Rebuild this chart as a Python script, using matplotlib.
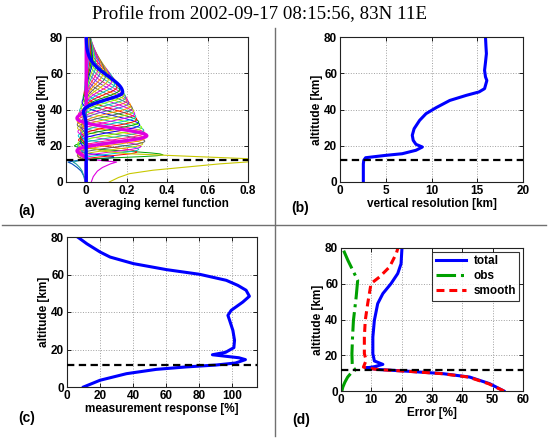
import numpy as np
import matplotlib
matplotlib.use("Agg")
import matplotlib.pyplot as plt
from matplotlib.lines import Line2D

plt.rcParams['font.family'] = ['Liberation Sans', 'DejaVu Sans']
plt.rcParams['font.weight'] = 'bold'

# ---------------- data ----------------
title_text = "Profile from 2002-09-17 08:15:56, 83N 11E"
tropopause_alt = 12.0

# (a) averaging kernels (peak altitude, peak value, widths below/above, side-lobe depths)
kern_alt = [13.5, 15, 16.5, 18, 19.5, 21, 22.5, 24, 25.5, 27, 28.5, 30, 31.5, 33, 34.5,
            36, 37.5, 39, 40.5, 42, 43.5, 45, 46.5, 48, 49.5, 51, 52.5, 54, 55.5, 57,
            58.5, 60, 61.5, 63, 64.5, 66, 67.5, 69, 70.5, 72, 73.5, 75]
kern_peak = [0.15, 0.38, 0.25, 0.26, 0.27, 0.28, 0.29, 0.29, 0.30, 0.29, 0.285, 0.275,
             0.265, 0.26, 0.25, 0.245, 0.24, 0.235, 0.228, 0.22, 0.21, 0.203, 0.195,
             0.187, 0.18, 0.165, 0.152, 0.14, 0.125, 0.11, 0.095, 0.082, 0.07, 0.058,
             0.047, 0.038, 0.031, 0.026, 0.021, 0.017, 0.014, 0.011]
kern_wlo = [1.0, 1.3, 1.8, 2.1, 2.4, 2.6, 2.8, 2.9, 3.0, 3.1, 3.2, 3.2, 3.3, 3.3, 3.4,
            3.4, 3.5, 3.5, 3.5, 3.6, 3.6, 3.7, 3.7, 3.8, 3.8, 4.0, 4.2, 4.5, 4.8, 5.1,
            5.4, 5.7, 6.0, 6.3, 6.6, 6.9, 7.2, 7.5, 7.8, 8.0, 8.0, 8.0]
kern_whi = [1.2, 1.8, 2.4, 2.7, 3.0, 3.2, 3.3, 3.4, 3.5, 3.7, 3.9, 4.1, 4.4, 4.7, 5.0,
            5.3, 5.7, 6.0, 6.4, 6.8, 7.2, 7.6, 8.0, 8.4, 8.8, 9.2, 9.6, 10.0, 10.4, 10.8,
            11.0, 11.2, 11.4, 11.6, 11.8, 12.0, 12.0, 12.0, 12.0, 12.0, 12.0, 12.0]
kern_nlo = [0.2, 0.15, 0.18, 0.18, 0.18, 0.18, 0.18, 0.18, 0.18, 0.18, 0.18, 0.18, 0.14,
            0.14, 0.14, 0.14, 0.14, 0.14, 0.14, 0.10, 0.10, 0.10, 0.10, 0.10, 0.10, 0.10,
            0.06, 0.06, 0.06, 0.06, 0.06, 0.06, 0.03, 0.03, 0.03, 0.03, 0.03, 0.03, 0.03,
            0.03, 0.03, 0.03]
kern_nhi = [0.18, 0.18, 0.18, 0.18, 0.18, 0.18, 0.18, 0.18, 0.18, 0.16, 0.14, 0.12, 0.10,
            0.08, 0.06, 0.05, 0.04, 0.03, 0.02, 0.02, 0.01, 0.01, 0.0, 0.0, 0.0, 0.0, 0.0,
            0.0, 0.0, 0.0, 0.0, 0.0, 0.0, 0.0, 0.0, 0.0, 0.0, 0.0, 0.0, 0.0, 0.0, 0.0]
thick_magenta_idx = 8
thick_blue_idx = 24

# kernels of the lowest retrieval levels (read directly)
low_yellow_alt = [0, 2.5, 4.6, 6.5, 8.3, 10, 11, 12.2, 12.9, 14, 15.6, 17, 19, 22, 30, 80]
low_yellow_val = [0.114, 0.16, 0.214, 0.33, 0.5, 0.66, 0.79, 0.9, 0.79, 0.55, 0.21, 0.08,
                  0.02, 0.0, 0.0, 0.0]
low_magenta_alt = [0, 3, 6, 8, 10, 11, 11.8, 12.5, 14, 20, 80]
low_magenta_val = [0.025, 0.035, 0.055, 0.08, 0.12, 0.15, 0.08, 0.02, 0.0, 0.0, 0.0]
low_blue_alt = [0, 3, 6, 8, 10, 11, 11.8, 12.5, 14, 80]
low_blue_val = [0.0, -0.01, -0.025, -0.045, -0.07, -0.09, -0.05, 0.0, 0.0, 0.0]
low_cyan_alt = [0, 3, 6, 8, 10, 11, 11.8, 12.5, 14, 80]
low_cyan_val = [-0.005, -0.012, -0.02, -0.032, -0.05, -0.065, -0.035, 0.0, 0.0, 0.0]

# (b) vertical resolution
res_alt = [0, 5, 10, 12, 13.4, 14.7, 15.6, 17.5, 19.3, 20.8, 23, 25.8, 29.4, 34, 37.7,
           41, 45, 47.8, 49.7, 51.5, 56, 58, 61.6, 66, 70.8, 75, 80]
res_val = [2.55, 2.55, 2.55, 2.6, 2.8, 5.0, 6.8, 8.3, 9.0, 8.3, 8.0, 7.9, 8.1, 8.7, 9.4,
           10.5, 12.0, 13.8, 15.2, 15.8, 16.05, 15.9, 15.8, 15.9, 16.0, 15.95, 15.9]

# (c) measurement response
mr_alt = [0, 3.6, 7.1, 9.4, 10.7, 11.7, 12.8, 14.6, 15.6, 17.2, 18.5, 21, 24.9, 30.2,
          35.6, 38.2, 40.9, 45.3, 48.4, 51.6, 54.2, 56.9, 60.1, 62.6, 65.8, 69.3, 72,
          76.4, 80]
mr_val = [10, 20, 36, 54, 72, 90, 102, 108, 104, 88, 96, 101, 101.4, 100.4, 98.4, 97.4,
          99.4, 106.4, 110.4, 108.4, 103.4, 96.4, 80.3, 60.2, 40.2, 26.1, 20, 12, 6.4]

# (d) errors
tot_alt = [0, 4.1, 7.8, 9.7, 11, 12, 12.9, 13.6, 14.9, 16.8, 20.9, 30.2, 39.5, 48.9,
           54.5, 60.1, 65.7, 71.2, 80]
tot_val = [53.7, 49, 42.4, 33.6, 22.6, 12.7, 8.3, 11.0, 13.8, 11, 10.5, 10.5, 11, 12.1,
           13.8, 16.5, 18.7, 19.8, 20.1]
smo_alt = [0, 4.1, 7.8, 9.7, 11, 12, 12.9, 13.4, 17.2, 20.9, 30.2, 39.5, 48.9, 60.1,
           63.8, 69.4, 76.8, 79.6]
smo_val = [53.7, 48.6, 42.0, 33.2, 22.2, 12.3, 8.3, 7.4, 8.3, 7.7, 7.7, 8.0, 8.8, 9.9,
           12.7, 16.0, 18.2, 18.7]
obs_alt = [0, 2.2, 5, 7.8, 10, 11.6, 12.5, 13.5, 15.3, 20.9, 30, 39.5, 52.6, 61.9, 67.5,
           73, 80]
obs_val = [0.3, 0.6, 1.3, 2.2, 3.3, 4.6, 4.4, 3.8, 3.7, 3.6, 3.8, 4.1, 5.0, 5.5, 3.9,
           2.3, 0.5]

alt_ticks = [0, 20, 40, 60, 80]

# ---------------- figure ----------------
W, H = 553, 441
fig = plt.figure(figsize=(W / 100, H / 100), dpi=100)

def ax_at(l, r, t, b):
    return fig.add_axes([l / W, 1 - b / H, (r - l) / W, (b - t) / H])

axA = ax_at(66, 248, 37, 182)
axB = ax_at(340, 523, 37, 182)
axC = ax_at(67, 257, 237, 387)
axD = ax_at(341, 523, 248, 391)

FS = 8.5

def style(ax, xlim, xticks, xlabels, xlabel):
    ax.set_xlim(*xlim)
    ax.set_ylim(0, 80)
    ax.set_xticks(xticks)
    ax.set_xticklabels(xlabels, fontsize=FS, fontweight='bold')
    ax.set_yticks(alt_ticks)
    ax.set_yticklabels([str(v) for v in alt_ticks], fontsize=FS, fontweight='bold')
    ax.tick_params(direction='in', top=True, right=True, length=3, width=0.6, pad=2)
    ax.grid(True, linestyle=':', color='#a0a0a0', linewidth=0.7)
    for s in ax.spines.values():
        s.set_linewidth(0.8)
        s.set_color('#222222')
    ax.set_xlabel(xlabel, fontsize=FS, fontweight='bold', labelpad=1)
    ax.set_ylabel('altitude [km]', fontsize=FS, fontweight='bold', labelpad=1)
    ax.axhline(tropopause_alt, color='black', linewidth=1.6, dashes=(3.3, 2.0), zorder=5)

# (a)
z = np.arange(0, 80.01, 0.5)
cycle = ['#0000ff', '#00a000', '#ff0000', '#00c8c8', '#e000e0', '#c8c800', '#606060',
         '#ff8c00', '#8a2be2', '#ff1493', '#20b2aa', '#7fff00']
def kernel(zk, a, slo, shi, nlo, nhi):
    s = np.where(z < zk, slo, shi)
    u = (z - zk) / s
    main = np.exp(-0.5 * u ** 2)
    lobe = np.where(z < zk, nlo, nhi) * np.exp(-0.5 * ((np.abs(u) - 2.6) / 0.7) ** 2)
    taper = 1.0 / (1.0 + np.exp(-(z - 12.8) / 0.3))
    return a * (main - lobe) * taper

kernels = [kernel(*p) for p in zip(kern_alt, kern_peak, kern_wlo, kern_whi, kern_nlo, kern_nhi)]
for i, k in enumerate(kernels):
    if i in (thick_magenta_idx, thick_blue_idx):
        continue
    axA.plot(k, z, color=cycle[i % len(cycle)], linewidth=0.7)
axA.plot(low_yellow_val, low_yellow_alt, color='#c8c800', linewidth=0.8)
axA.plot(low_magenta_val, low_magenta_alt, color='#e000e0', linewidth=0.8)
axA.plot(low_blue_val, low_blue_alt, color='#0050c0', linewidth=0.8)
axA.plot(low_cyan_val, low_cyan_alt, color='#20a0a0', linewidth=0.8)
axA.plot(kernels[thick_magenta_idx], z, color='#e000e0', linewidth=2.4, zorder=4)
axA.plot(kernels[thick_blue_idx], z, color='#0000ff', linewidth=2.4, zorder=4)
style(axA, (-0.1, 0.8), [0, 0.2, 0.4, 0.6, 0.8], ['0', '0.2', '0.4', '0.6', '0.8'],
      'averaging kernel function')

# (b)
axB.plot(res_val, res_alt, color='#0000ff', linewidth=2.2)
style(axB, (0, 20), [0, 5, 10, 15, 20], ['0', '5', '10', '15', '20'],
      'vertical resolution [km]')

# (c)
axC.plot(mr_val, mr_alt, color='#0000ff', linewidth=2.2)
style(axC, (0, 115), [0, 20, 40, 60, 80, 100], ['0', '20', '40', '60', '80', '100'],
      'measurement response [%]')

# (d)
axD.plot(tot_val, tot_alt, color='#0000ff', linewidth=2.2, label='total')
axD.plot(obs_val, obs_alt, color='#00a000', linewidth=2.2, linestyle='-.', label='obs')
axD.plot(smo_val, smo_alt, color='#ff0000', linewidth=2.2, dashes=(2.6, 1.6), label='smooth')
style(axD, (0, 60), [0, 10, 20, 30, 40, 50, 60], ['0', '10', '20', '30', '40', '50', '60'],
      'Error [%]')
leg = axD.legend(loc='upper right', fontsize=FS, frameon=True, fancybox=False,
                 handlelength=2.6, borderpad=0.3, labelspacing=0.25, handletextpad=0.6,
                 borderaxespad=0.3)
leg.get_frame().set_edgecolor('black')
leg.get_frame().set_linewidth(0.8)
for t in leg.get_texts():
    t.set_fontweight('bold')

# panel labels
for lab, x, y in [('(a)', 18, 211), ('(b)', 291, 208), ('(c)', 18, 418), ('(d)', 292, 420)]:
    fig.text(x / W, 1 - y / H, lab, fontsize=10, fontweight='bold', va='center', ha='left')

# title
fig.text(259 / W, 1 - 15 / H, title_text, fontsize=13.6, family='Liberation Serif',
         fontweight='normal', ha='center', va='center')

# separators
fig.add_artist(Line2D([275 / W, 275 / W], [1 - 28 / H, 1 - 436 / H], transform=fig.transFigure,
                      color='#707070', linewidth=1.0))
fig.add_artist(Line2D([2 / W, 546 / W], [1 - 225 / H, 1 - 225 / H], transform=fig.transFigure,
                      color='#707070', linewidth=1.0))

fig.savefig('out.png', dpi=100)
